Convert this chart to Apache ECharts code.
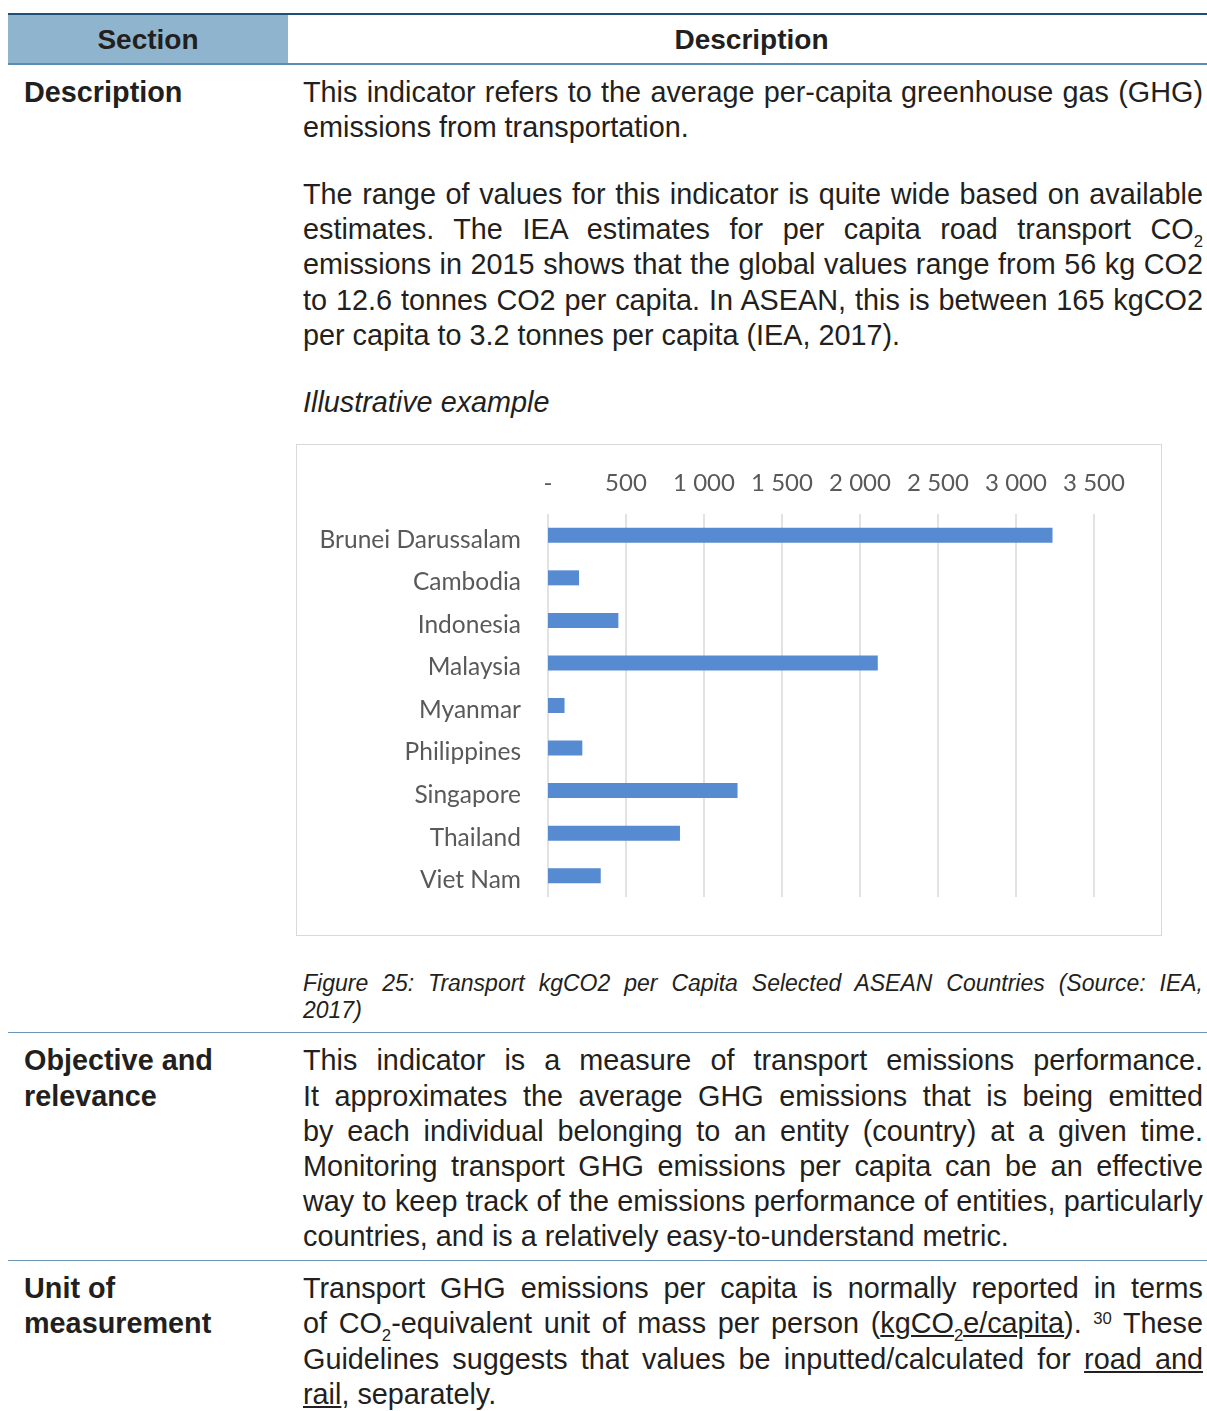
<!DOCTYPE html>
<html>
<head>
<meta charset="utf-8">
<script src="https://cdn.jsdelivr.net/npm/echarts@6/dist/echarts.min.js"></script>
<style>
  html, body {
    margin: 0;
    padding: 0;
    background: #fff;
  }
  .page {
    position: relative;
    width: 1207px;
    height: 1411px;
    overflow: hidden;
    font-family: "Liberation Sans", Arial, sans-serif;
    color: #231f20;
  }
  .rule {
    position: absolute;
    left: 8px;
    width: 1199px;
  }
  .head-fill {
    position: absolute;
    left: 8px;
    top: 14px;
    width: 280px;
    height: 50px;
    background: #8fb4cd;
  }
  .hd {
    position: absolute;
    top: 22px;
    height: 36px;
    line-height: 36px;
    font-size: 28px;
    font-weight: bold;
    text-align: center;
  }
  .lbl {
    position: absolute;
    left: 24px;
    height: 35px;
    line-height: 35px;
    font-size: 28.8px;
    font-weight: bold;
    white-space: nowrap;
  }
  .ln {
    position: absolute;
    left: 303px;
    width: 900px;
    height: 35px;
    line-height: 35px;
    font-size: 28.8px;
    white-space: nowrap;
  }
  .ln.j {
    text-align: justify;
    text-align-last: justify;
  }
  .cap {
    position: absolute;
    left: 303px;
    width: 900px;
    height: 27px;
    line-height: 27px;
    font-size: 23px;
    font-style: italic;
    white-space: nowrap;
  }
  .cap.j {
    text-align: justify;
    text-align-last: justify;
  }
  sub {
    font-size: 0.58em;
    line-height: 0;
    vertical-align: -0.45em;
  }
  sup {
    font-size: 0.58em;
    line-height: 0;
    vertical-align: 0.55em;
  }
  .chart-box {
    position: absolute;
    left: 296px;
    top: 444px;
    width: 866px;
    height: 492px;
    border: 1px solid #d9d9d9;
    box-sizing: border-box;
  }
  #chart {
    width: 864px;
    height: 490px;
  }
</style>
</head>
<body>
<div class="page">
  <!-- table header -->
  <div class="head-fill"></div>
  <div class="rule" style="top:13px;height:2px;background:#1f4f78;"></div>
  <div class="rule" style="top:63px;height:2px;background:#5a8db2;"></div>
  <div class="hd" style="left:8px;width:280px;">Section</div>
  <div class="hd" style="left:296px;width:911px;">Description</div>

  <!-- row 1 -->
  <div class="lbl" style="top:75px;">Description</div>
  <div class="ln j" style="top:75px;">This indicator refers to the average per-capita greenhouse gas (GHG)</div>
  <div class="ln" style="top:110px;">emissions from transportation.</div>
  <div class="ln j" style="top:177px;">The range of values for this indicator is quite wide based on available</div>
  <div class="ln j" style="top:212px;">estimates. The IEA estimates for per capita road transport CO<sub>2</sub></div>
  <div class="ln j" style="top:247px;">emissions in 2015 shows that the global values range from 56 kg CO2</div>
  <div class="ln j" style="top:283px;">to 12.6 tonnes CO2 per capita. In ASEAN, this is between 165 kgCO2</div>
  <div class="ln" style="top:318px;">per capita to 3.2 tonnes per capita (IEA, 2017).</div>
  <div class="ln" style="top:385px;font-style:italic;">Illustrative example</div>

  <div class="chart-box"><div id="chart"></div></div>

  <div class="cap j" style="top:970px;">Figure 25: Transport kgCO2 per Capita Selected ASEAN Countries (Source: IEA,</div>
  <div class="cap" style="top:997px;">2017)</div>

  <div class="rule" style="top:1032px;height:1px;background:#6b93b6;"></div>

  <!-- row 2 -->
  <div class="lbl" style="top:1043px;">Objective and</div>
  <div class="lbl" style="top:1079px;">relevance</div>
  <div class="ln j" style="top:1043px;">This indicator is a measure of transport emissions performance.</div>
  <div class="ln j" style="top:1079px;">It approximates the average GHG emissions that is being emitted</div>
  <div class="ln j" style="top:1114px;">by each individual belonging to an entity (country) at a given time.</div>
  <div class="ln j" style="top:1149px;">Monitoring transport GHG emissions per capita can be an effective</div>
  <div class="ln j" style="top:1184px;">way to keep track of the emissions performance of entities, particularly</div>
  <div class="ln" style="top:1219px;">countries, and is a relatively easy-to-understand metric.</div>

  <div class="rule" style="top:1260px;height:1px;background:#6b93b6;"></div>

  <!-- row 3 -->
  <div class="lbl" style="top:1271px;">Unit of</div>
  <div class="lbl" style="top:1306px;">measurement</div>
  <div class="ln j" style="top:1271px;">Transport GHG emissions per capita is normally reported in terms</div>
  <div class="ln j" style="top:1306px;">of CO<sub>2</sub>-equivalent unit of mass per person (<u>kgCO<sub>2</sub>e/capita</u>). <sup>30</sup> These</div>
  <div class="ln j" style="top:1342px;">Guidelines suggests that values be inputted/calculated for <u>road and</u></div>
  <div class="ln" style="top:1377px;"><u>rail</u>, separately.</div>
</div>

<script>
// Transport kgCO2 per capita, selected ASEAN countries (IEA, 2017)
const countries = [
  'Brunei Darussalam',
  'Cambodia',
  'Indonesia',
  'Malaysia',
  'Myanmar',
  'Philippines',
  'Singapore',
  'Thailand',
  'Viet Nam'
]
const kgco2PerCapita = [3234, 199, 451, 2114, 106, 220, 1215, 846, 338]
const tickLabels = ['-', '500', '1 000', '1 500', '2 000', '2 500', '3 000', '3 500']

const chart = echarts.init(document.getElementById('chart'))
chart.setOption({
  animation: false,
  textStyle: {
    fontFamily: 'Lato'
  },
  grid: {
    left: 251,
    right: 67,
    top: 69,
    bottom: 38
  },
  xAxis: {
    type: 'value',
    position: 'top',
    min: 0,
    max: 3500,
    interval: 500,
    axisLine: { show: false },
    axisTick: { show: false },
    axisLabel: {
      color: '#595959',
      fontSize: 24,
      margin: 19,
      formatter: (v) => tickLabels[Math.round(v / 500)]
    },
    splitLine: {
      lineStyle: { color: '#d9d9d9', width: 1.5 }
    }
  },
  yAxis: {
    type: 'category',
    inverse: true,
    data: countries,
    axisLine: { show: false },
    axisTick: { show: false },
    axisLabel: {
      color: '#595959',
      fontSize: 24.5,
      margin: 27,
      verticalAlign: 'top',
      lineHeight: 9
    }
  },
  series: [
    {
      type: 'bar',
      data: kgco2PerCapita,
      barWidth: 15,
      itemStyle: {
        color: '#568bd1'
      }
    }
  ]
})
</script>
</body>
</html>
